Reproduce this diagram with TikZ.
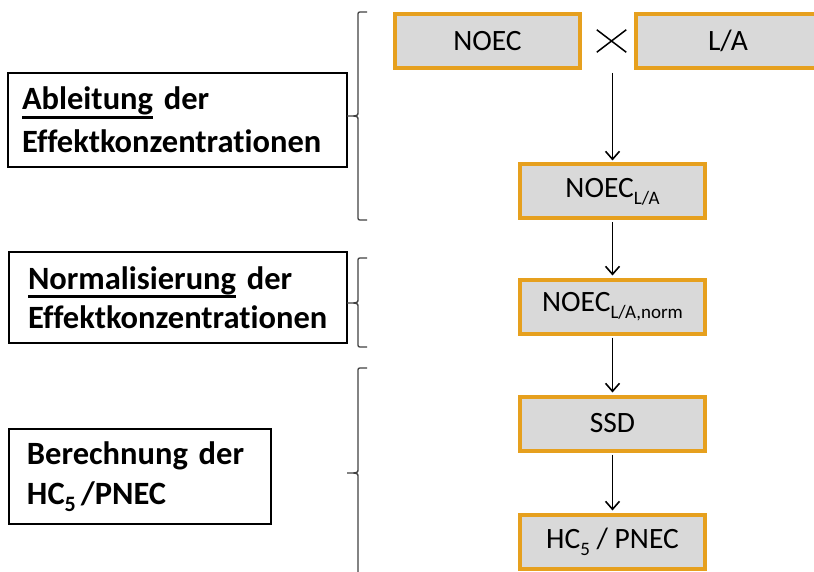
\documentclass[tikz,border=0pt]{standalone}
\usepackage{fontspec}
\setmainfont[Ligatures=NoCommon]{Carlito}
\usetikzlibrary{arrows.meta,shapes.misc}

\definecolor{boxorange}{RGB}{230,160,30}
\definecolor{boxgray}{RGB}{217,217,217}
\definecolor{bracegray}{RGB}{64,64,64}

% lowered, smaller index text
\newcommand\lowsub[2][19]{\raisebox{-7pt}{\fontsize{#1}{#1}\selectfont #2}}
% word with a thick underline
\newsavebox\ulwordbox
\newcommand\ulword[1]{\sbox\ulwordbox{#1}\rlap{\rule[-9pt]{\wd\ulwordbox}{3pt}}\usebox\ulwordbox}

\begin{document}
\begin{tikzpicture}[x=1pt,y=-1pt,
  stepbox/.style={draw=boxorange, line width=4pt, fill=boxgray,
    minimum width=185pt, minimum height=54pt, inner sep=0pt,
    font=\fontsize{29.5}{29.5}\selectfont},
  labelbox/.style={draw=black, line width=1.2pt, inner sep=0pt, align=left,
    font=\bfseries\fontsize{32.5}{43}\selectfont},
  flow/.style={-{Straight Barb[length=8pt,width=14pt]}, line width=1.6pt,
    shorten >=2pt, shorten <=2pt},
  brace/.style={draw=bracegray, line width=1.3pt}]

\useasboundingbox (0,0) rectangle (814,572);
\clip (0,0) rectangle (814,572);

% flow boxes
\node[stepbox] (noec) at (487.5,41) {NOEC};
\node[stepbox] (la) at (728,41) {L/A};
\node[draw, cross out, line width=1.5pt, minimum width=28pt, minimum height=21pt, inner sep=0pt] (times) at (611.5,41) {};
\coordinate (prod) at (612.5,71);
\node[stepbox] (noecla) at (612.5,191.5) {NOEC\lowsub{L/A}};
\node[stepbox] (norm) at (612.5,306.5) {NOEC\lowsub{L/A,norm}};
\node[stepbox] (ssd) at (612.5,423.5) {SSD};
\node[stepbox] (hc) at (612.5,541.5) {HC\lowsub{5} / PNEC};

\draw[flow] (prod) -- (noecla.north);
\draw[flow] (noecla.south) -- (norm.north);
\draw[flow] (norm.south) -- (ssd.north);
\draw[flow] (ssd.south) -- (hc.north);

% stage labels
\node[labelbox, minimum width=339pt, minimum height=94pt, text width=311pt] (lab1) at (177.5,120)
  {\ulword{Ableitung} der\\Effektkonzentrationen};
\node[labelbox, minimum width=338pt, minimum height=91pt, text width=300pt,
  font=\bfseries\fontsize{32.5}{39}\selectfont] (lab2) at (178,297.5)
  {\ulword{Normalisierung} der\\Effektkonzentrationen};
\node[labelbox, minimum width=262pt, minimum height=95pt, text width=226pt,
  font=\bfseries\fontsize{32.5}{40}\selectfont] (lab3) at (140,476.5)
  {Berechnung der\\HC\lowsub[22]{5}\hspace{5pt}/PNEC};

% braces
\draw[brace] (367,12) -- (362,12) .. controls (358,12) .. (358,16) -- (358,112)
  .. controls (358,116) .. (347,116) .. controls (358,116) .. (358,120)
  -- (358,216) .. controls (358,220) .. (362,220) -- (367,220);
\draw[brace] (367,258) -- (362,258) .. controls (358,258) .. (358,262) -- (358,299)
  .. controls (358,303) .. (347,303) .. controls (358,303) .. (358,307)
  -- (358,343) .. controls (358,347) .. (362,347) -- (367,347);
\draw[brace] (367,368) -- (362,368) .. controls (358,368) .. (358,372) -- (358,469)
  .. controls (358,473) .. (347,473) .. controls (358,473) .. (358,477)
  -- (358,590);
\end{tikzpicture}
\end{document}
